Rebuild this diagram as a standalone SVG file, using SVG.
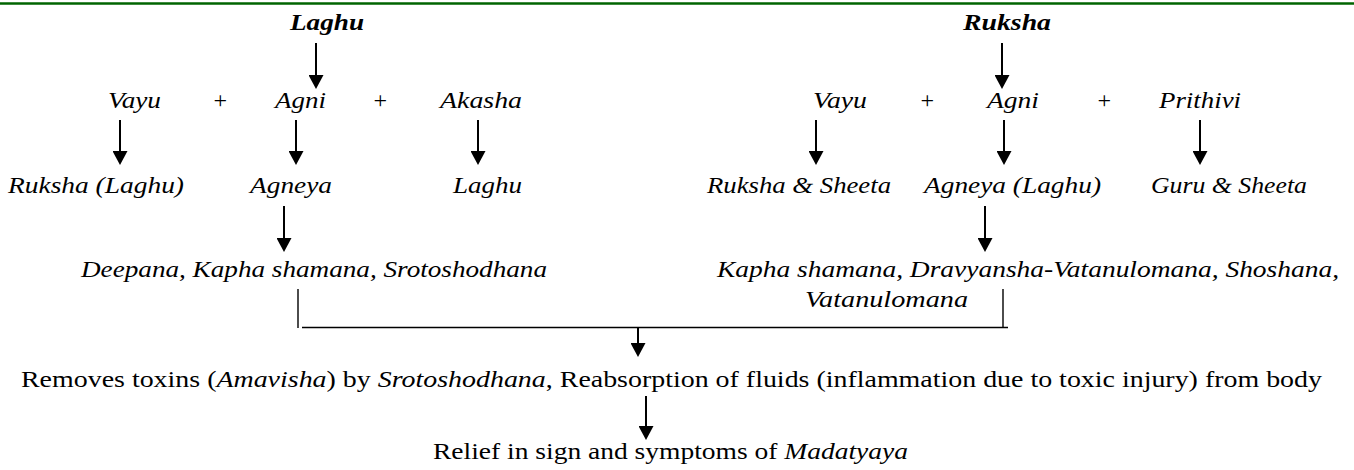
<svg xmlns="http://www.w3.org/2000/svg" width="1354" height="470" viewBox="0 0 1354 470">
<style>
  text { font-family: "Liberation Serif", "Times New Roman", serif; font-size: 24px; fill: #000; }
  .i { font-style: italic; }
  .h { font-style: italic; font-weight: bold; }
  .arr { stroke: #000; stroke-width: 2; fill: none; marker-end: url(#ah); }
  .br { stroke: #000; stroke-width: 1.4; fill: none; }
</style>
<defs>
  <marker id="ah" markerUnits="userSpaceOnUse" viewBox="0 0 14 15" refX="6" refY="7.5" markerWidth="14" markerHeight="15" orient="auto">
    <path d="M0,0 L14,7.5 L0,15 Z" fill="#000"/>
  </marker>
</defs>
<rect width="1354" height="470" fill="#fff"/>
<line x1="0" y1="3.5" x2="1354" y2="3.5" stroke="#006400" stroke-width="2.6"/>

<g id="laghu-top"><text class="h" x="290" y="30" textLength="74" lengthAdjust="spacingAndGlyphs">Laghu</text></g>
<g id="ruksha-top"><text class="h" x="963" y="30" textLength="88" lengthAdjust="spacingAndGlyphs">Ruksha</text></g>

<g id="vayu-l"><text class="i" x="108" y="108" textLength="53" lengthAdjust="spacingAndGlyphs">Vayu</text></g>
<g id="plus-l1"><text class="i" x="220" y="108" text-anchor="middle">+</text></g>
<g id="agni-l"><text class="i" x="275" y="108" textLength="51" lengthAdjust="spacingAndGlyphs">Agni</text></g>
<g id="plus-l2"><text class="i" x="380" y="108" text-anchor="middle">+</text></g>
<g id="akasha"><text class="i" x="440" y="108" textLength="82" lengthAdjust="spacingAndGlyphs">Akasha</text></g>

<g id="vayu-r"><text class="i" x="813" y="108" textLength="54" lengthAdjust="spacingAndGlyphs">Vayu</text></g>
<g id="plus-r1"><text class="i" x="927" y="108" text-anchor="middle">+</text></g>
<g id="agni-r"><text class="i" x="987" y="108" textLength="52" lengthAdjust="spacingAndGlyphs">Agni</text></g>
<g id="plus-r2"><text class="i" x="1104" y="108" text-anchor="middle">+</text></g>
<g id="prithivi"><text class="i" x="1159" y="108" textLength="82" lengthAdjust="spacingAndGlyphs">Prithivi</text></g>

<g id="ruksha-laghu"><text class="i" x="8" y="193" textLength="176" lengthAdjust="spacingAndGlyphs">Ruksha (Laghu)</text></g>
<g id="agneya-l"><text class="i" x="250" y="193" textLength="82" lengthAdjust="spacingAndGlyphs">Agneya</text></g>
<g id="laghu-l"><text class="i" x="453" y="193" textLength="69" lengthAdjust="spacingAndGlyphs">Laghu</text></g>

<g id="ruksha-sheeta"><text class="i" x="707" y="193" textLength="184" lengthAdjust="spacingAndGlyphs">Ruksha &amp; Sheeta</text></g>
<g id="agneya-laghu"><text class="i" x="924" y="193" textLength="177" lengthAdjust="spacingAndGlyphs">Agneya (Laghu)</text></g>
<g id="guru-sheeta"><text class="i" x="1151" y="193" textLength="156" lengthAdjust="spacingAndGlyphs">Guru &amp; Sheeta</text></g>

<g id="deepana"><text class="i" x="81" y="277" textLength="466" lengthAdjust="spacingAndGlyphs">Deepana, Kapha shamana, Srotoshodhana</text></g>
<g id="kapha-r">
  <text class="i" x="717" y="277" textLength="622" lengthAdjust="spacingAndGlyphs">Kapha shamana, Dravyansha-Vatanulomana, Shoshana,</text>
  <text class="i" x="805" y="307" textLength="163" lengthAdjust="spacingAndGlyphs">Vatanulomana</text>
</g>

<g id="removes"><text x="21" y="387" textLength="1301" lengthAdjust="spacingAndGlyphs">Removes toxins (<tspan class="i">Amavisha</tspan>) by <tspan class="i">Srotoshodhana</tspan>, Reabsorption of fluids (inflammation due to toxic injury) from body</text></g>
<g id="relief"><text x="433" y="459" textLength="475" lengthAdjust="spacingAndGlyphs">Relief in sign and symptoms of <tspan class="i">Madatyaya</tspan></text></g>

<g id="connectors">
  <line class="arr" x1="316" y1="43" x2="316" y2="81"/>
  <line class="arr" x1="1002" y1="43" x2="1002" y2="81"/>
  <line class="arr" x1="120" y1="120" x2="120" y2="157"/>
  <line class="arr" x1="296" y1="120" x2="296" y2="157"/>
  <line class="arr" x1="478" y1="120" x2="478" y2="157"/>
  <line class="arr" x1="816" y1="120" x2="816" y2="157"/>
  <line class="arr" x1="1004" y1="120" x2="1004" y2="157"/>
  <line class="arr" x1="1200" y1="120" x2="1200" y2="157"/>
  <line class="arr" x1="284" y1="206" x2="284" y2="244"/>
  <line class="arr" x1="985" y1="206" x2="985" y2="244"/>
  <line class="arr" x1="638" y1="328" x2="638" y2="349"/>
  <line class="arr" x1="646" y1="396" x2="646" y2="432"/>
  <line class="br" x1="298" y1="289" x2="298" y2="328"/>
  <line class="br" x1="302" y1="327.5" x2="1008" y2="327.5"/>
  <line class="br" x1="1003" y1="289" x2="1003" y2="328"/>
</g>
</svg>
